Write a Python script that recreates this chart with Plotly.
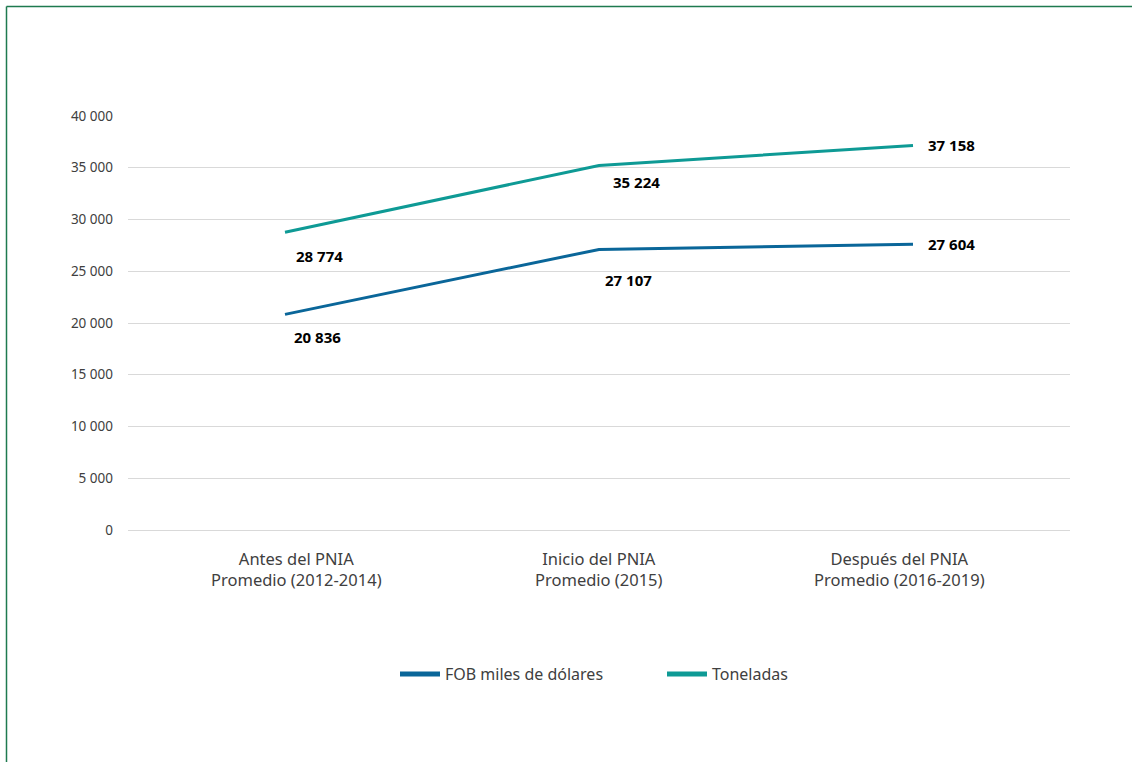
import plotly.graph_objects as go

# Periods compared and the two export series
categories = ["Antes del PNIA<br>Promedio (2012-2014)",
              "Inicio del PNIA<br>Promedio (2015)",
              "Después del PNIA<br>Promedio (2016-2019)"]
fob_miles_usd = [20836, 27107, 27604]
toneladas = [28774, 35224, 37158]
y_ticks = [0, 5000, 10000, 15000, 20000, 25000, 30000, 35000, 40000]

FOB_COLOR = "#0a6699"
TON_COLOR = "#0e9a95"
BORDER = "#1e7a4f"
W, H = 1132, 762
L, R, T, B = 128, 62, 116, 232


def fmt(v):
    return f"{v:,}".replace(",", " ")


fig = go.Figure()
fig.add_trace(go.Scatter(x=categories, y=fob_miles_usd, mode="lines",
                         name="FOB miles de dólares",
                         line=dict(color=FOB_COLOR, width=3),
                         showlegend=False, hoverinfo="skip"))
fig.add_trace(go.Scatter(x=categories, y=toneladas, mode="lines",
                         name="Toneladas",
                         line=dict(color=TON_COLOR, width=3),
                         showlegend=False, hoverinfo="skip"))
# Legend keys with a thicker sample line
for name, color in [("FOB miles de dólares", FOB_COLOR), ("Toneladas", TON_COLOR)]:
    fig.add_trace(go.Scatter(x=[None], y=[None], mode="lines", name=name,
                             line=dict(color=color, width=5)))

# Value labels: (x shift, y shift, anchor) per point
fob_offsets = [(32, -23, "center"), (29, -31, "center"), (13, 0, "left")]
ton_offsets = [(34, -24, "center"), (37, -17, "center"), (13, 0, "left")]
annotations = []
for series, offsets in [(fob_miles_usd, fob_offsets), (toneladas, ton_offsets)]:
    for cat, val, (dx, dy, anchor) in zip(categories, series, offsets):
        annotations.append(dict(
            x=cat, y=val, xref="x", yref="y", text=fmt(val), showarrow=False,
            xanchor=anchor, yanchor="middle", xshift=dx, yshift=dy,
            font=dict(family="Open Sans", size=15, color="#000000", weight="bold")))

# Category labels under the axis
label_shifts = [11, 0, -14]
for cat, dx in zip(categories, label_shifts):
    annotations.append(dict(
        x=cat, y=0, xref="x", yref="y", text=cat, showarrow=False,
        xanchor="center", yanchor="top", xshift=dx, yshift=-15, align="center",
        font=dict(family="Noto Sans", size=16.5, color="#404040")))

pw, ph = W - L - R, H - T - B
px = lambda p: (p - L) / pw
py = lambda p: (H - B - p) / ph

fig.update_layout(
    width=W, height=H,
    margin=dict(l=L, r=R, t=T, b=B),
    paper_bgcolor="white", plot_bgcolor="white",
    separators=", ",
    font=dict(family="Noto Sans", color="#404040"),
    showlegend=True,
    legend=dict(orientation="h", x=px(395), xanchor="left", y=py(674), yanchor="middle",
                font=dict(size=16, color="#404040"), itemwidth=40,
                entrywidthmode="pixels", entrywidth=212),
    annotations=annotations,
    shapes=[
        dict(type="line", xref="paper", yref="paper",
             x0=px(6.5), x1=px(W + 20), y0=py(6.5), y1=py(6.5),
             line=dict(color=BORDER, width=1.5), layer="above"),
        dict(type="line", xref="paper", yref="paper",
             x0=px(6.5), x1=px(6.5), y0=py(6.5), y1=py(H + 20),
             line=dict(color=BORDER, width=1.5), layer="above"),
    ],
)
fig.update_xaxes(type="category", range=[-0.5, 2.5], showgrid=False, showline=False,
                 ticks="", showticklabels=False)
fig.update_yaxes(range=[0, 40000], tickvals=y_ticks, tickformat=",d",
                 showgrid=True, gridcolor="#d9d9d9", gridwidth=1,
                 zeroline=True, zerolinecolor="#d9d9d9", zerolinewidth=1,
                 showline=False, ticks="", ticklabelstandoff=14,
                 tickfont=dict(size=13.5, color="#404040"))

fig.write_html("out.html")
